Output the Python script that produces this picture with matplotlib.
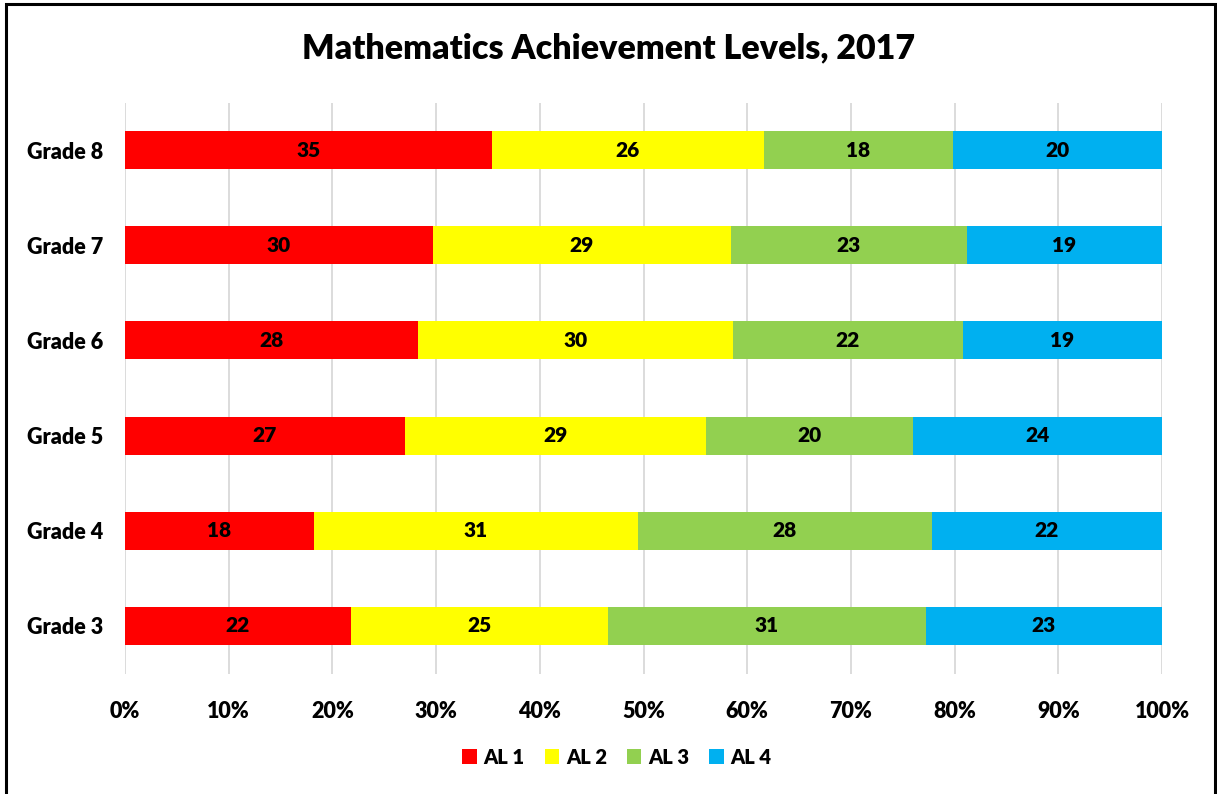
import matplotlib
matplotlib.use("Agg")
import matplotlib.pyplot as plt
from matplotlib.patches import Rectangle
import numpy as np

grades = ["Grade 3", "Grade 4", "Grade 5", "Grade 6", "Grade 7", "Grade 8"]
al1 = [22, 18, 27, 28, 30, 35]
al2 = [25, 31, 29, 30, 29, 26]
al3 = [31, 28, 20, 22, 23, 18]
al4 = [23, 22, 24, 19, 19, 20]
series_names = ["AL 1", "AL 2", "AL 3", "AL 4"]
colors = ["#FF0000", "#FFFF00", "#92D050", "#00B0F0"]
xticks = [0, 10, 20, 30, 40, 50, 60, 70, 80, 90, 100]

plt.rcParams['font.family'] = ['Lato', 'DejaVu Sans']
plt.rcParams['font.weight'] = 'bold'
W = 'heavy'

fig = plt.figure(figsize=(12.17, 7.94), dpi=100)
ax = fig.add_axes([125/1217, 1-673.5/794, (1162-125)/1217, (673.5-102.5)/794])

data = np.array([al1, al2, al3, al4], dtype=float)
totals = data.sum(axis=0)
pct = data / totals * 100
y = np.arange(len(grades))
left = np.zeros(len(grades))
for i in range(4):
    ax.barh(y, pct[i], left=left, height=0.4, color=colors[i], label=series_names[i], zorder=3)
    for j in range(len(grades)):
        ax.text(left[j] + pct[i][j] / 2, y[j], str(int(data[i][j])), ha='center', va='center',
                fontsize=15, fontweight=W, color='black', zorder=4)
    left += pct[i]

ax.set_xlim(0, 100)
ax.set_ylim(-0.5, len(grades) - 0.5)
ax.set_xticks(xticks)
ax.set_xticklabels([f"{t}%" for t in xticks], fontsize=15.5, fontweight=W)
ax.set_yticks(y)
ax.set_yticklabels(grades, fontsize=15.5, fontweight=W)
ax.tick_params(axis='both', length=0)
ax.tick_params(axis='x', pad=20)
ax.tick_params(axis='y', pad=16)
ax.grid(axis='x', color='#D9D9D9', linewidth=1.3, zorder=0)
for s in ax.spines.values():
    s.set_visible(False)

fig.suptitle("Mathematics Achievement Levels, 2017", fontsize=24.5, fontweight=W, y=1-48/794, va='center')

handles, labels = ax.get_legend_handles_labels()
fig.legend(handles, labels, loc='center', bbox_to_anchor=(617/1217, 1-757/794), ncol=4, frameon=False,
           handlelength=0.7, handleheight=0.7, handletextpad=0.35, columnspacing=1.0,
           prop={'weight': W, 'size': 14.5})

fig.add_artist(Rectangle((6/1217, -0.05), (1215-6)/1217, 1.05 - 4.5/794, transform=fig.transFigure,
                         fill=False, edgecolor='black', linewidth=2.2))

fig.savefig("out.png", dpi=100)
